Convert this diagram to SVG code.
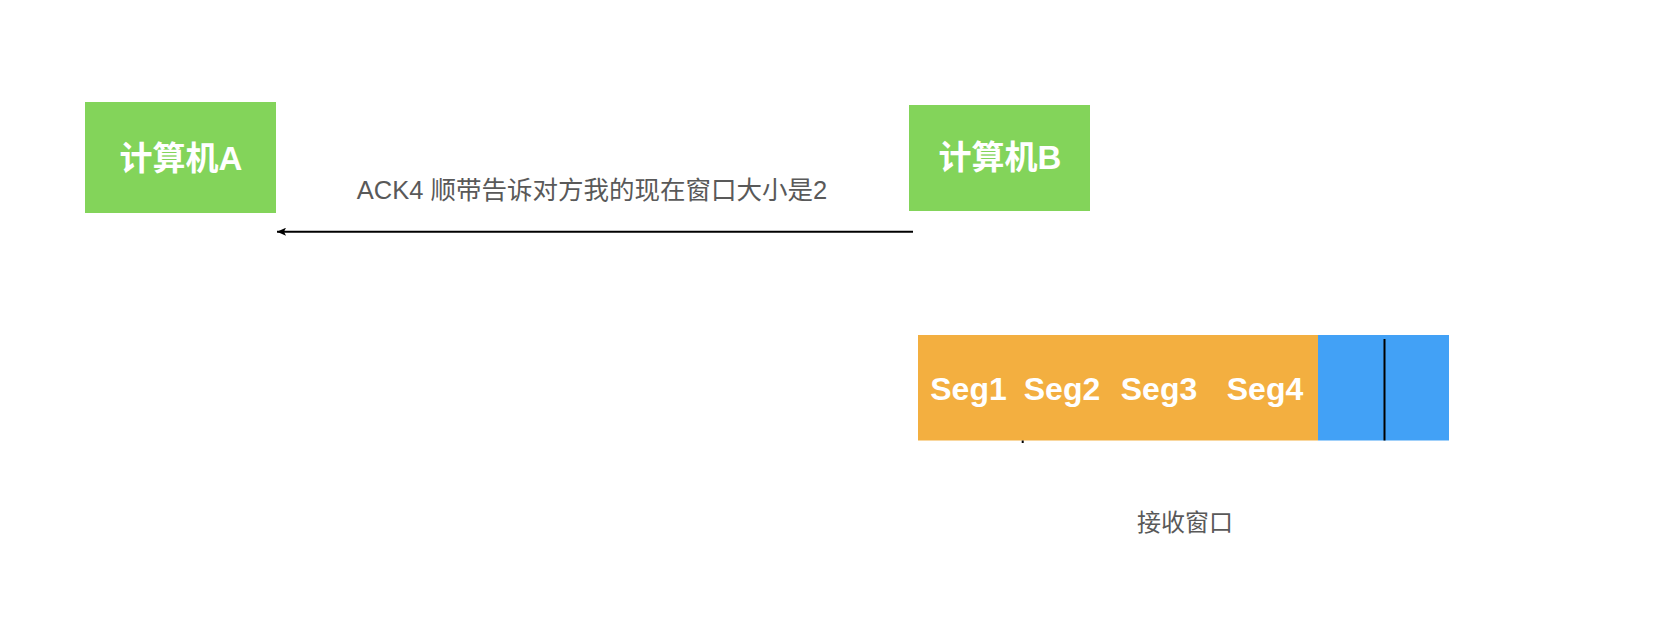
<svg xmlns="http://www.w3.org/2000/svg" width="1658" height="642" viewBox="0 0 1658 642">
<style>
  .node { fill: #83D45A; }
  .lbl { font-family: "Liberation Sans", "Noto Sans CJK SC", sans-serif; font-weight: bold; font-size: 33px; fill: #ffffff; text-anchor: middle; }
  .seg { font-family: "Liberation Sans", "Noto Sans CJK SC", sans-serif; font-weight: bold; font-size: 32px; fill: #ffffff; text-anchor: middle; }
  .txt { font-family: "Liberation Sans", "Noto Sans CJK SC", sans-serif; font-size: 25.5px; fill: #595959; text-anchor: middle; }
</style>
<defs>
  <marker id="arr" markerWidth="10" markerHeight="8" refX="9" refY="4" orient="auto" markerUnits="userSpaceOnUse">
    <path d="M0,0 L9,4 L0,8 L2,4 Z" fill="#000"/>
  </marker>
</defs>
<rect width="1658" height="642" fill="#ffffff"/>
<g id="nodeA">
  <rect class="node" x="85" y="102" width="191" height="111"/>
  <text class="lbl" x="181" y="170">计算机A</text>
</g>
<g id="nodeB">
  <rect class="node" x="909" y="105" width="181" height="106"/>
  <text class="lbl" x="1000" y="169">计算机B</text>
</g>
<g id="connectors">
  <line x1="913" y1="231.7" x2="277" y2="231.7" stroke="#000" stroke-width="2" marker-end="url(#arr)"/>
  <text class="txt" x="592" y="199">ACK4 顺带告诉对方我的现在窗口大小是2</text>
</g>
<g id="window">
  <rect x="918" y="335" width="400" height="105.5" fill="#F3AF40"/>
  <rect x="1318" y="335" width="131" height="105.5" fill="#42A1F6"/>
  <line x1="1384.5" y1="339" x2="1384.5" y2="440.5" stroke="#000" stroke-width="2"/>
  <line x1="1022.7" y1="440.5" x2="1022.7" y2="443" stroke="#000" stroke-width="2"/>
  <text class="seg" x="968.5" y="400">Seg1</text>
  <text class="seg" x="1062" y="400">Seg2</text>
  <text class="seg" x="1159" y="400">Seg3</text>
  <text class="seg" x="1265" y="400">Seg4</text>
  <text class="txt" x="1185" y="531" style="font-size:24px">接收窗口</text>
</g>
</svg>
